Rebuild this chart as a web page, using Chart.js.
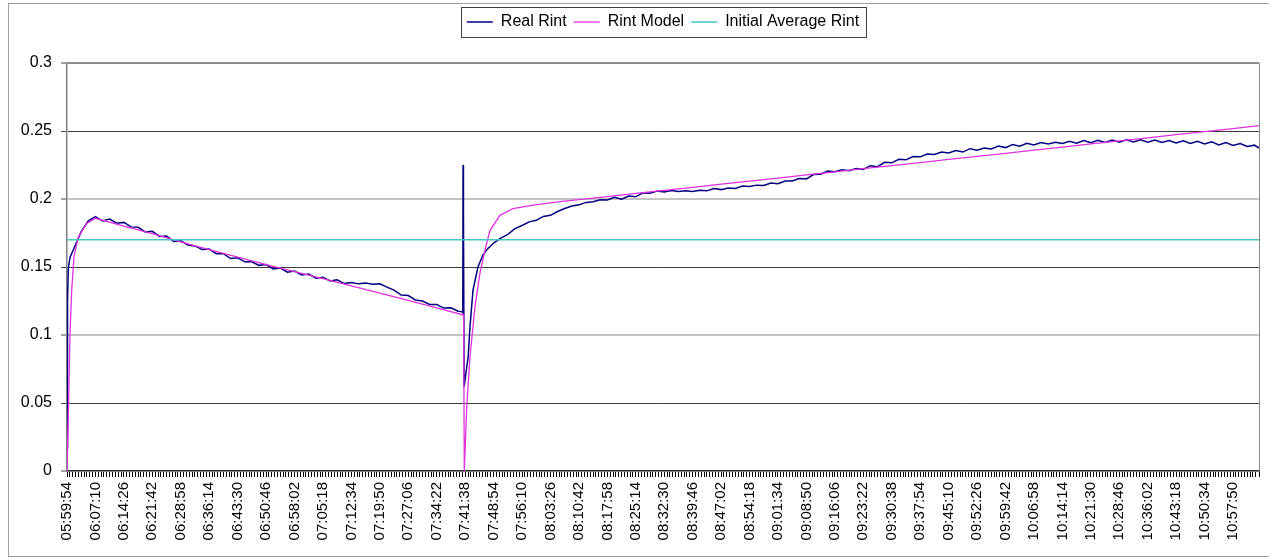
<!DOCTYPE html>
<html>
<head>
<meta charset="utf-8">
<title>Rint</title>
<script src="https://cdn.jsdelivr.net/npm/chart.js@4.4.1/dist/chart.umd.min.js"></script>
<style>
  html, body { margin: 0; padding: 0; background: #fff; }
  #frame { position: absolute; left: 8px; top: 3px; width: 1300px; height: 552px; border: 1px solid #a0a0a0; }
  #chart { position: absolute; left: 0; top: 0; }
</style>
</head>
<body>
<div id="frame"></div>
<canvas id="chart" width="1269" height="560"></canvas>
<script>
// x values are seconds since 05:59:54, one tick label every 7 min 16 s
const tickLabels = [
  '05:59:54', '06:07:10', '06:14:26', '06:21:42', '06:28:58', '06:36:14', '06:43:30',
  '06:50:46', '06:58:02', '07:05:18', '07:12:34', '07:19:50', '07:27:06', '07:34:22',
  '07:41:38', '07:48:54', '07:56:10', '08:03:26', '08:10:42', '08:17:58', '08:25:14',
  '08:32:30', '08:39:46', '08:47:02', '08:54:18', '09:01:34', '09:08:50', '09:16:06',
  '09:23:22', '09:30:38', '09:37:54', '09:45:10', '09:52:26', '09:59:42', '10:06:58',
  '10:14:14', '10:21:30', '10:28:46', '10:36:02', '10:43:18', '10:50:34', '10:57:50'
]
const LABEL_EVERY = 436
const X_END = 18274

const realTime = [
  0, 8, 20, 46,
  109, 218, 327, 436, 545, 654, 763, 872, 981, 1090,
  1199, 1308, 1417, 1526, 1635, 1744, 1853, 1962, 2071, 2180,
  2289, 2398, 2507, 2616, 2725, 2834, 2943, 3052, 3161, 3270,
  3379, 3488, 3597, 3706, 3815, 3924, 4033, 4142, 4251, 4360,
  4469, 4578, 4687, 4796, 4905, 5014, 5123, 5232, 5341, 5450,
  5559, 5668, 5777, 5886, 5995,
  6050, 6068, 6072, 6078, 6088, 6150, 6178, 6224, 6300, 6377, 6450,
  6540, 6649, 6758, 6867, 6976, 7085, 7194, 7303, 7412, 7521,
  7630, 7739, 7848, 7957, 8066, 8175, 8284, 8393, 8502, 8611,
  8720, 8829, 8938, 9047, 9156, 9265, 9374, 9483, 9592, 9701,
  9810, 9919, 10028, 10137, 10246, 10355, 10464, 10573, 10682, 10791,
  10900, 11009, 11118, 11227, 11336, 11445, 11554, 11663, 11772, 11881,
  11990, 12099, 12208, 12317, 12426, 12535, 12644, 12753, 12862, 12971,
  13080, 13189, 13298, 13407, 13516, 13625, 13734, 13843, 13952, 14061,
  14170, 14279, 14388, 14497, 14606, 14715, 14824, 14933, 15042, 15151,
  15260, 15369, 15478, 15587, 15696, 15805, 15914, 16023, 16132, 16241,
  16350, 16459, 16568, 16677, 16786, 16895, 17004, 17113, 17222, 17331,
  17440, 17549, 17658, 17767, 17876, 17985, 18094, 18203, 18274
]
const realRint = [
  0.017, 0.125, 0.149, 0.157,
  0.164, 0.176, 0.184, 0.187, 0.1838, 0.1852, 0.1822, 0.1828, 0.1795, 0.1792,
  0.1758, 0.1762, 0.1725, 0.1728, 0.1688, 0.1692, 0.1662, 0.1655, 0.1628, 0.1632,
  0.1598, 0.1598, 0.1562, 0.1568, 0.1538, 0.1538, 0.1512, 0.1518, 0.1486, 0.1492,
  0.1462, 0.1470, 0.1442, 0.1448, 0.1418, 0.1425, 0.1398, 0.1406, 0.1378, 0.1386,
  0.1376, 0.1383, 0.1374, 0.1376, 0.1352, 0.1330, 0.1294, 0.1290, 0.1258, 0.1250,
  0.1224, 0.1224, 0.1198, 0.1200, 0.1175,
  0.1172, 0.1165, 0.225, 0.19, 0.062, 0.084, 0.106, 0.133, 0.150, 0.159, 0.1635,
  0.1676, 0.1712, 0.1740, 0.1782, 0.1805, 0.1832, 0.1843, 0.1872, 0.1880, 0.1908,
  0.1930, 0.1948, 0.1957, 0.1975, 0.1980, 0.1995, 0.1993, 0.2012, 0.1998, 0.2022,
  0.2016, 0.2045, 0.2042, 0.2058, 0.2052, 0.2062, 0.2056, 0.2060, 0.2056, 0.2065,
  0.2060, 0.2077, 0.2069, 0.2080, 0.2078, 0.2095, 0.2092, 0.2102, 0.2100, 0.2118,
  0.2112, 0.2132, 0.2132, 0.2150, 0.2148, 0.2180, 0.2182, 0.2205, 0.2200, 0.2215,
  0.2208, 0.2225, 0.2218, 0.2245, 0.2238, 0.2270, 0.2266, 0.2292, 0.2288, 0.2312,
  0.2310, 0.2330, 0.2328, 0.2345, 0.2338, 0.2356, 0.2345, 0.2370, 0.2358, 0.2375,
  0.2368, 0.2390, 0.2378, 0.2400, 0.2388, 0.2410, 0.2398, 0.2415, 0.2405, 0.2418,
  0.2408, 0.2425, 0.2410, 0.2430, 0.2414, 0.2432, 0.2416, 0.2434, 0.2418, 0.2436,
  0.2420, 0.2435, 0.2418, 0.2434, 0.2415, 0.2430, 0.2412, 0.2428, 0.2408, 0.2424,
  0.2404, 0.2420, 0.2398, 0.2415, 0.2393, 0.2408, 0.2386, 0.2396, 0.2375
]

const modelTime = [
  0, 20, 46, 72, 107, 173, 302, 436, 872, 1308, 1744, 2180, 2616, 3052,
  3488, 3924, 4360, 4796, 5232, 5668, 6080,
  6091, 6128, 6178, 6255, 6331, 6408, 6485, 6638, 6837, 7144, 7558,
  7848, 8284, 8720, 9156, 9592, 10028, 10464, 10900, 11336, 11772, 12208, 12644,
  13080, 13516, 13952, 14388, 14824, 15260, 15696, 16132, 16568, 17004, 17440, 17876, 18274
]
const rintModel = [
  0, 0.04, 0.101, 0.133, 0.1576, 0.172, 0.182, 0.1858, 0.180, 0.1745, 0.1685, 0.1628, 0.1572, 0.1518,
  0.1466, 0.1415, 0.1362, 0.1308, 0.1255, 0.1200, 0.1147,
  0, 0.047, 0.084, 0.121, 0.1455, 0.1625, 0.177, 0.188, 0.193, 0.1955, 0.198,
  0.1995, 0.2018, 0.2041, 0.2063, 0.2086, 0.2109, 0.2132, 0.2154, 0.2177, 0.2200, 0.2223, 0.2245,
  0.2268, 0.2291, 0.2314, 0.2336, 0.2359, 0.2382, 0.2405, 0.2427, 0.2450, 0.2473, 0.2496, 0.2518, 0.2540
]

const avgTime = [0, X_END]
const initialAverageRint = [0.17, 0.17]

const toPoints = (xs, ys) => xs.map((x, i) => ({ x, y: ys[i] }))

Chart.defaults.font.family = '"Liberation Sans", Arial, sans-serif'
Chart.defaults.color = '#000'

// adds the gap between legend and plot area
const legendGap = {
  id: 'legendGap',
  beforeInit(chart) {
    const fit = chart.legend.fit
    chart.legend.fit = function () {
      fit.call(chart.legend)
      this.height += 23
    }
  }
}

// legend frame + right edge of the plot area
const frames = {
  id: 'frames',
  afterDraw(chart) {
    const { ctx, chartArea } = chart
    const boxes = chart.legend.legendHitBoxes
    ctx.save()
    ctx.strokeStyle = '#8a8a8a'
    ctx.lineWidth = 1
    ctx.beginPath()
    ctx.moveTo(Math.round(chartArea.right) + 0.5, chartArea.top)
    ctx.lineTo(Math.round(chartArea.right) + 0.5, chartArea.bottom)
    ctx.stroke()
    if (boxes && boxes.length) {
      const left = Math.min(...boxes.map(b => b.left)) - 6
      const right = Math.max(...boxes.map(b => b.left + b.width)) + 7
      const cy = boxes[0].top + boxes[0].height / 2
      ctx.strokeStyle = '#404040'
      ctx.strokeRect(Math.round(left) + 0.5, Math.round(cy - 15) + 0.5, Math.round(right - left), 30)
    }
    ctx.restore()
  }
}

new Chart(document.getElementById('chart'), {
  type: 'line',
  data: {
    datasets: [
      {
        label: 'Real Rint',
        data: toPoints(realTime, realRint),
        borderColor: '#000080',
        borderWidth: 1.5,
        pointRadius: 0,
        order: 3
      },
      {
        label: 'Rint Model',
        data: toPoints(modelTime, rintModel),
        borderColor: '#e030e0',
        borderWidth: 1.3,
        pointRadius: 0,
        order: 2
      },
      {
        label: 'Initial Average Rint',
        data: toPoints(avgTime, initialAverageRint),
        borderColor: '#45c4c4',
        borderWidth: 1.5,
        pointRadius: 0,
        order: 1
      }
    ]
  },
  options: {
    responsive: false,
    animation: false,
    devicePixelRatio: 1,
    layout: { padding: { top: 7, right: 10, left: 0, bottom: 0 } },
    plugins: {
      tooltip: { enabled: false },
      legend: {
        position: 'top',
        fullSize: false,
        labels: {
          font: { size: 16 },
          color: '#000',
          padding: 7,
          usePointStyle: true,
          pointStyle: 'line',
          pointStyleWidth: 26,
          sort: (a, b) => a.datasetIndex - b.datasetIndex
        }
      }
    },
    scales: {
      x: {
        type: 'linear',
        min: 0,
        max: X_END,
        afterFit: (s) => { s.height = 89; s.paddingRight = 0 },
        border: { color: '#303030', width: 1.5 },
        grid: { drawOnChartArea: false, drawTicks: true, tickLength: 6, color: '#000', tickWidth: 1 },
        ticks: {
          stepSize: LABEL_EVERY / 10,
          autoSkip: false,
          minRotation: 90,
          maxRotation: 90,
          padding: 5,
          font: { size: 15 },
          callback: (v) => {
            const k = v / LABEL_EVERY
            return Math.abs(k - Math.round(k)) < 1e-6 ? (tickLabels[Math.round(k)] || '') : ''
          }
        }
      },
      y: {
        min: 0,
        max: 0.3,
        afterFit: (s) => { s.width = 67 },
        border: { color: '#808080', width: 1.5 },
        grid: {
          color: (c) => {
            const v = Math.round(c.tick.value * 100)
            if (v === 30) return '#8c8c8c'
            return v % 10 === 5 ? '#3c3c3c' : '#c4c4c4'
          },
          lineWidth: (c) => Math.round(c.tick.value * 100) % 10 === 5 ? 1 : 2,
          tickColor: '#444',
          tickWidth: 1,
          tickLength: 6
        },
        ticks: {
          stepSize: 0.05,
          padding: 9,
          font: { size: 16 },
          callback: (v) => String(+v.toFixed(2))
        }
      }
    }
  },
  plugins: [legendGap, frames]
})
</script>
</body>
</html>
